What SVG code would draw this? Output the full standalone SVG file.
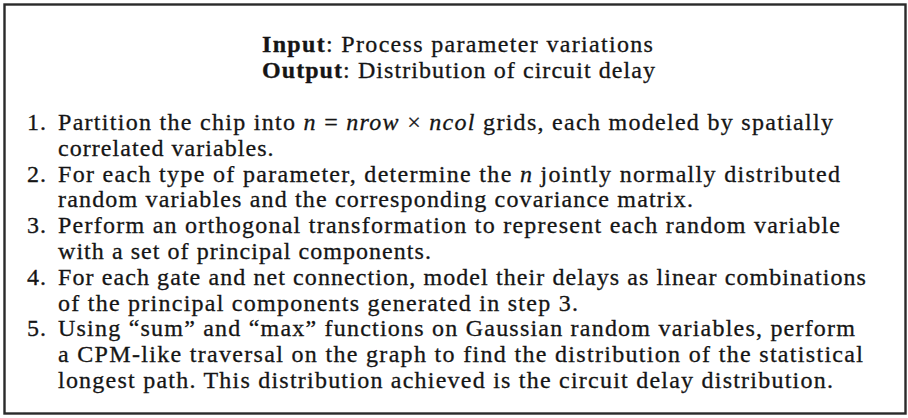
<svg xmlns="http://www.w3.org/2000/svg" width="908" height="418" viewBox="0 0 908 418">
  <style>
    text { font-family: "Liberation Serif", "DejaVu Serif", serif; font-size: 24px; fill: #151515; stroke: #151515; stroke-width: 0.3; letter-spacing: 1.05px; }
    .b { font-weight: bold; }
    .m { font-style: italic; }
    .frame { fill: #ffffff; stroke: #2a2a2a; stroke-width: 2.4; }
  </style>

  <!-- outer frame of the algorithm box -->
  <rect class="frame" x="4.5" y="4.5" width="901" height="409"/>

  <!-- header: input and output -->
  <g id="header">
    <text x="262" y="52" textLength="392" lengthAdjust="spacing"><tspan class="b">Input</tspan>: Process parameter variations</text>
    <text x="262" y="78" textLength="394" lengthAdjust="spacing"><tspan class="b">Output</tspan>: Distribution of circuit delay</text>
  </g>

  <!-- numbered steps -->
  <g id="step1">
    <text x="27" y="130">1.</text>
    <text x="58" y="130" textLength="776" lengthAdjust="spacing">Partition the chip into <tspan class="m">n</tspan> = <tspan class="m">nrow</tspan> × <tspan class="m">ncol</tspan> grids, each modeled by spatially</text>
    <text x="58" y="155.8">correlated variables.</text>
  </g>
  <g id="step2">
    <text x="27" y="181.6">2.</text>
    <text x="58" y="181.6" textLength="783" lengthAdjust="spacing">For each type of parameter, determine the <tspan class="m">n</tspan> jointly normally distributed</text>
    <text x="58" y="207.4" textLength="636" lengthAdjust="spacing">random variables and the corresponding covariance matrix.</text>
  </g>
  <g id="step3">
    <text x="27" y="233.2">3.</text>
    <text x="58" y="233.2" textLength="783" lengthAdjust="spacing">Perform an orthogonal transformation to represent each random variable</text>
    <text x="58" y="259">with a set of principal components.</text>
  </g>
  <g id="step4">
    <text x="27" y="284.8">4.</text>
    <text x="58" y="284.8" textLength="809" lengthAdjust="spacing">For each gate and net connection, model their delays as linear combinations</text>
    <text x="58" y="310.6" textLength="521" lengthAdjust="spacing">of the principal components generated in step 3.</text>
  </g>
  <g id="step5">
    <text x="27" y="336.4">5.</text>
    <text x="58" y="336.4" textLength="798" lengthAdjust="spacing">Using “sum” and “max” functions on Gaussian random variables, perform</text>
    <text x="58" y="362.2" textLength="806" lengthAdjust="spacing">a CPM-like traversal on the graph to find the distribution of the statistical</text>
    <text x="58" y="388" textLength="776" lengthAdjust="spacing">longest path. This distribution achieved is the circuit delay distribution.</text>
  </g>
</svg>
